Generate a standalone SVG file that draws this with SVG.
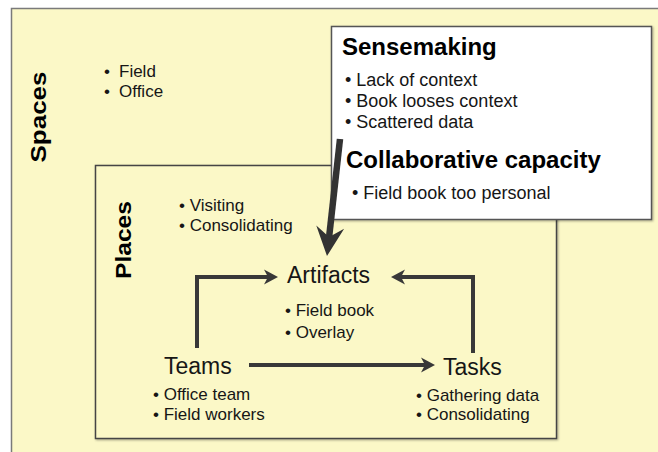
<svg xmlns="http://www.w3.org/2000/svg" width="658" height="452" viewBox="0 0 658 452">
  <style>
    text { font-family: "Liberation Sans", Arial, Helvetica, sans-serif; fill: #161616; }
    .item { font-size: 17px; }
    .bitem { font-size: 18px; }
    .node { font-size: 23px; }
    .head { font-size: 24px; font-weight: bold; fill: #000; }
    .vlabel { font-size: 22px; font-weight: bold; fill: #000; }
    .conn { fill: none; stroke: #383838; stroke-width: 4; }
    .big { fill: none; stroke: #333; stroke-width: 6.5; }
    .yellow { fill: #FBF8C7; }
  </style>
  <defs>
    <marker id="arr" viewBox="-6 -10 18 20" markerWidth="18" markerHeight="20" refX="0" refY="0" orient="auto" markerUnits="userSpaceOnUse">
      <path d="M10,0 L-4,-7.5 L0,0 L-4,7.5 Z" fill="#383838"/>
    </marker>
    <marker id="bigarr" viewBox="-14 -16 36 32" markerWidth="36" markerHeight="32" refX="0" refY="0" orient="auto" markerUnits="userSpaceOnUse">
      <path d="M19,0 L-10,-14 L0,0 L-10,14 Z" fill="#333"/>
    </marker>
    <filter id="sh" x="-5%" y="-5%" width="110%" height="110%">
      <feDropShadow dx="1" dy="1" stdDeviation="0.8" flood-color="#000" flood-opacity="0.35"/>
    </filter>
  </defs>

  <rect x="0" y="0" width="658" height="452" fill="#ffffff"/>

  <g id="spaces">
    <rect class="yellow" x="11.5" y="8.5" width="660" height="460" stroke="#7a7a7a" stroke-width="1.5"/>
    <text class="vlabel" transform="translate(46,117) rotate(-90)" text-anchor="middle" textLength="91" lengthAdjust="spacingAndGlyphs">Spaces</text>
    <text class="item" x="104" y="77" font-size="17.5">•<tspan x="119">Field</tspan></text>
    <text class="item" x="104" y="97" font-size="17.5">•<tspan x="119">Office</tspan></text>
  </g>

  <g id="places">
    <rect class="yellow" x="95.5" y="165.5" width="461" height="273" stroke="#454545" stroke-width="1.5" filter="url(#sh)"/>
    <text class="vlabel" transform="translate(131,240) rotate(-90)" text-anchor="middle" textLength="78" lengthAdjust="spacingAndGlyphs">Places</text>
    <text class="item" x="179" y="211">• Visiting</text>
    <text class="item" x="179" y="231">• Consolidating</text>
  </g>

  <g id="artifacts">
    <text class="node" x="287" y="283" font-size="24">Artifacts</text>
    <text class="item" x="285" y="316">• Field book</text>
    <text class="item" x="285" y="338">• Overlay</text>
  </g>

  <g id="teams">
    <text class="node" x="164" y="374">Teams</text>
    <text class="item" x="153" y="400">• Office team</text>
    <text class="item" x="153" y="420">• Field workers</text>
  </g>

  <g id="tasks">
    <text class="node" x="443" y="375">Tasks</text>
    <text class="item" x="416" y="401">• Gathering data</text>
    <text class="item" x="416" y="420">• Consolidating</text>
  </g>

  <g id="problems">
    <rect x="331.5" y="26.5" width="320" height="193" fill="#ffffff" stroke="#555" stroke-width="1.5" filter="url(#sh)"/>
    <text class="head" x="342" y="55">Sensemaking</text>
    <text class="bitem" x="345" y="86">• Lack of context</text>
    <text class="bitem" x="345" y="107">• Book looses context</text>
    <text class="bitem" x="345" y="128">• Scattered data</text>
    <text class="head" x="346" y="168">Collaborative capacity</text>
    <text class="bitem" x="352" y="199">• Field book too personal</text>
  </g>

  <g id="connectors">
    <path class="conn" d="M197,348 V277 H268" marker-end="url(#arr)"/>
    <path class="conn" d="M473,353 V277 H401" marker-end="url(#arr)"/>
    <path class="conn" d="M249,365 H425" marker-end="url(#arr)"/>
    <path class="big" d="M340,139 L329.1,237.1" marker-end="url(#bigarr)"/>
  </g>
</svg>
